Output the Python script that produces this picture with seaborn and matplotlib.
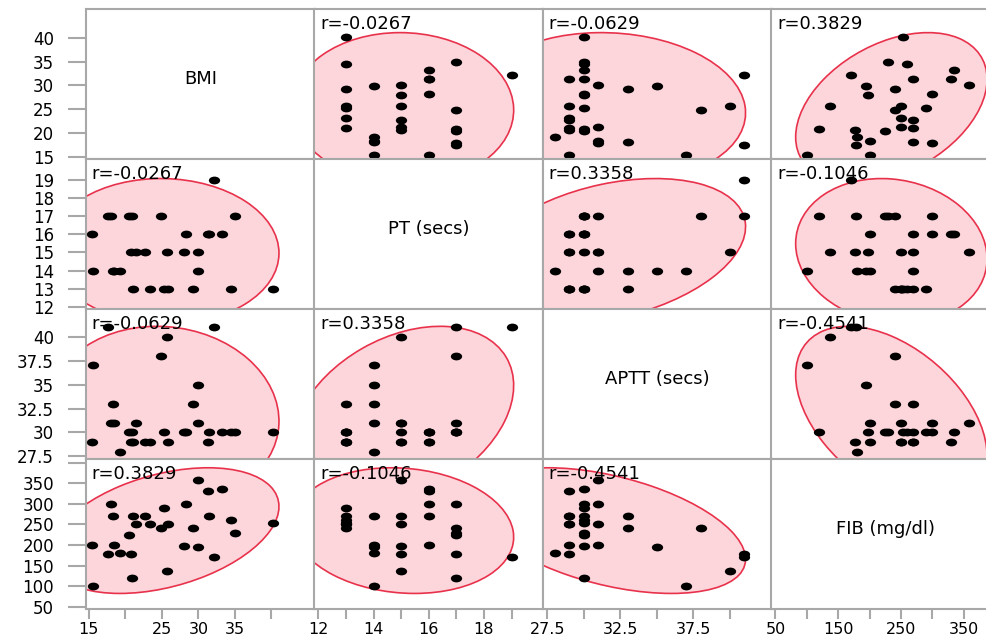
import numpy as np
import pandas as pd
import seaborn as sns
import matplotlib.pyplot as plt
from matplotlib.patches import Ellipse
from matplotlib.path import Path
from matplotlib.transforms import Affine2D
from matplotlib.markers import MarkerStyle

# One record per patient
bmi = [15.4, 15.6, 17.6, 18.0, 18.3, 18.5, 19.3, 20.5, 20.7, 20.9,
       21.1, 21.4, 22.7, 23.3, 24.9, 25.3, 25.7, 25.8, 28.0, 28.3,
       29.2, 29.9, 30.0, 31.3, 31.4, 32.2, 33.2, 34.5, 35.0, 40.2]
pt = [16, 14, 17, 17, 14, 14, 14, 17, 15, 17,
      13, 15, 15, 13, 17, 13, 15, 13, 15, 16,
      13, 14, 15, 16, 16, 19, 16, 13, 17, 13]
aptt = [29, 37, 41, 31, 33, 31, 28, 30, 29, 30,
        29, 31, 29, 29, 38, 30, 40, 29, 30, 30,
        33, 35, 31, 29, 30, 41, 30, 30, 30, 30]
fib = [200, 100, 178, 300, 270, 200, 180, 225, 177, 120,
       270, 250, 270, 250, 240, 290, 137, 250, 197, 300,
       240, 195, 358, 330, 270, 170, 335, 260, 230, 253]

var_names = ["BMI", "PT (secs)", "APTT (secs)", "FIB (mg/dl)"]

# Pairwise correlation coefficients
corr_pairs = [
    ("BMI", "PT (secs)", -0.0267),
    ("BMI", "APTT (secs)", -0.0629),
    ("BMI", "FIB (mg/dl)", 0.3829),
    ("PT (secs)", "APTT (secs)", 0.3358),
    ("PT (secs)", "FIB (mg/dl)", -0.1046),
    ("APTT (secs)", "FIB (mg/dl)", -0.4541),
]

# Axis ranges and ticks for each variable
axis_limits = {
    "BMI": (14.6, 45.9),
    "PT (secs)": (11.86, 20.14),
    "APTT (secs)": (27.2, 42.85),
    "FIB (mg/dl)": (43.7, 408.0),
}
tick_values = {
    "BMI": [15, 20, 25, 30, 35, 40],
    "PT (secs)": [12, 13, 14, 15, 16, 17, 18, 19],
    "APTT (secs)": [27.5, 30, 32.5, 35, 37.5, 40],
    "FIB (mg/dl)": [50, 100, 150, 200, 250, 300, 350, 400],
}
y_tick_labels = {
    "BMI": ["15", "20", "25", "30", "35", "40"],
    "PT (secs)": ["12", "13", "14", "15", "16", "17", "18", "19"],
    "APTT (secs)": ["27.5", "30", "32.5", "35", "37.5", "40"],
    "FIB (mg/dl)": ["50", "100", "150", "200", "250", "300", "350", ""],
}
x_tick_labels = {
    "BMI": ["15", "", "25", "30", "35", ""],
    "PT (secs)": ["12", "", "14", "", "16", "", "18", ""],
    "APTT (secs)": ["27.5", "", "32.5", "", "37.5", ""],
    "FIB (mg/dl)": ["50", "", "150", "", "250", "", "350", ""],
}

df = pd.DataFrame({"BMI": bmi, "PT (secs)": pt,
                   "APTT (secs)": aptt, "FIB (mg/dl)": fib})

corr = {}
for a, b, r in corr_pairs:
    corr[(a, b)] = r
    corr[(b, a)] = r

GRID_GREY = "#a8a8a8"
ELLIPSE_EDGE = "#e8324c"
ELLIPSE_FILL = "#fdd6db"
CHI2_95 = 5.991  # 95% bivariate normal contour


def density_ellipse(x, y, **kws):
    ax = plt.gca()
    r = corr[(x.name, y.name)]
    sx, sy = x.std(), y.std()
    cov = np.array([[sx * sx, r * sx * sy], [r * sx * sy, sy * sy]])
    vals, vecs = np.linalg.eigh(cov)
    order = vals.argsort()[::-1]
    vals, vecs = vals[order], vecs[:, order]
    angle = np.degrees(np.arctan2(vecs[1, 0], vecs[0, 0]))
    w, h = 2 * np.sqrt(CHI2_95 * vals)
    ax.add_patch(Ellipse((x.mean(), y.mean()), w, h, angle=angle,
                         facecolor=ELLIPSE_FILL, edgecolor=ELLIPSE_EDGE,
                         linewidth=1.2, zorder=1))
    ax.text(0.025, 0.965, f"r={r:.4f}", transform=ax.transAxes,
            ha="left", va="top", fontsize=13, color="black", zorder=3)


plt.rcParams["font.family"] = ["DejaVu Sans"]

g = sns.PairGrid(df, vars=var_names, despine=False, height=2, aspect=1.5)
g.map_offdiag(density_ellipse)

oval = Path.unit_circle().transformed(Affine2D().scale(1.45, 1.0))
g.map_offdiag(sns.scatterplot, marker=MarkerStyle(oval), s=66,
              color="black", linewidth=0, zorder=4)

n = len(var_names)
for i in range(n):
    for j in range(n):
        ax = g.axes[i, j]
        ax.set_xlabel("")
        ax.set_ylabel("")
        ax.set_facecolor("white")
        for sp in ax.spines.values():
            sp.set_color(GRID_GREY)
            sp.set_linewidth(1.5)
        xv, yv = var_names[j], var_names[i]
        ax.set_xlim(*axis_limits[xv])
        ax.set_ylim(*axis_limits[yv])
        if i == j:
            ax.text(0.5, 0.535, var_names[i], transform=ax.transAxes,
                    ha="center", va="center", fontsize=13, color="black")
        if i == n - 1:
            ax.set_xticks(tick_values[xv], x_tick_labels[xv])
            ax.tick_params(axis="x", length=7, width=1.5, color=GRID_GREY,
                           direction="out", pad=2.5, labelsize=11.5,
                           labelcolor="black")
        else:
            ax.tick_params(axis="x", length=0)
        if j == 0:
            ax.set_yticks(tick_values[yv], y_tick_labels[yv])
            ax.tick_params(axis="y", length=13, width=1.5, color=GRID_GREY,
                           direction="out", pad=10, labelsize=12,
                           labelcolor="black")
        else:
            ax.tick_params(axis="y", length=0)

fig = g.figure
fig.set_size_inches(9.87, 6.41)
W, H = 987.0, 641.0
col_x = [86.0, 314.5, 543.0, 771.5]
col_w = 228.5
row_top = [9.3, 159.3, 309.3, 459.3]
row_h = 150.0
for i in range(n):
    for j in range(n):
        g.axes[i, j].set_position([col_x[j] / W, 1 - (row_top[i] + row_h) / H,
                                   col_w / W, row_h / H])

fig.savefig("out.png", dpi=100)
